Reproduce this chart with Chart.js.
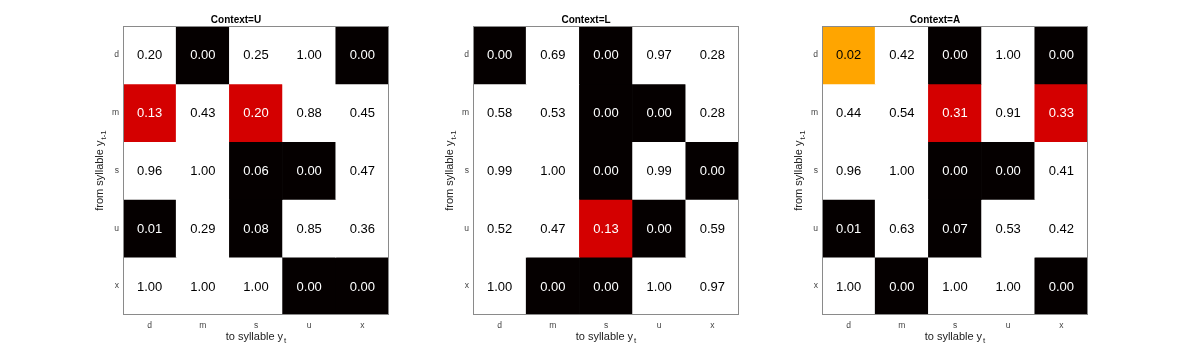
<!DOCTYPE html>
<html>
<head>
<meta charset="utf-8">
<script src="https://cdn.jsdelivr.net/npm/chart.js@4.4.1/dist/chart.umd.min.js"></script>
<style>
    body { margin: 0; background: #fff; width: 1177px; height: 354px; overflow: hidden; position: relative; }
    .panel { position: absolute; top: 0; width: 316px; height: 354px; }
</style>
</head>
<body>
<div class="panel" style="left:83px"><canvas id="chart-u" width="316" height="354"></canvas></div>
<div class="panel" style="left:433px"><canvas id="chart-l" width="316" height="354"></canvas></div>
<div class="panel" style="left:782px"><canvas id="chart-a" width="316" height="354"></canvas></div>
<script>
// Syllables (rows = from y_{t-1}, columns = to y_t)
const fromLabels = ['d', 'm', 's', 'u', 'x'];
const toLabels = ['d', 'm', 's', 'u', 'x'];

// Context=U
const valuesU = [
    [0.20, 0.00, 0.25, 1.00, 0.00],
    [0.13, 0.43, 0.20, 0.88, 0.45],
    [0.96, 1.00, 0.06, 0.00, 0.47],
    [0.01, 0.29, 0.08, 0.85, 0.36],
    [1.00, 1.00, 1.00, 0.00, 0.00]
];
const shadesU = ['WKWWK', 'RWRWW', 'WWKKW', 'KWKWW', 'WWWKK'];

// Context=L
const valuesL = [
    [0.00, 0.69, 0.00, 0.97, 0.28],
    [0.58, 0.53, 0.00, 0.00, 0.28],
    [0.99, 1.00, 0.00, 0.99, 0.00],
    [0.52, 0.47, 0.13, 0.00, 0.59],
    [1.00, 0.00, 0.00, 1.00, 0.97]
];
const shadesL = ['KWKWW', 'WWKKW', 'WWKWK', 'WWRKW', 'WKKWW'];

// Context=A
const valuesA = [
    [0.02, 0.42, 0.00, 1.00, 0.00],
    [0.44, 0.54, 0.31, 0.91, 0.33],
    [0.96, 1.00, 0.00, 0.00, 0.41],
    [0.01, 0.63, 0.07, 0.53, 0.42],
    [1.00, 0.00, 1.00, 1.00, 0.00]
];
const shadesA = ['OWKWK', 'WWRWR', 'WWKKW', 'KWKWW', 'WKWWK'];

const fillColors = { K: '#050000', R: '#d40000', O: '#ffa500', W: '#ffffff' };
const textColors = { K: '#ffffff', R: '#ffffff', O: '#000000', W: '#000000' };
const FONT = '"Liberation Sans", Arial, Helvetica, sans-serif';

function drawSubLabel(ctx, main, sub, x, y) {
    ctx.font = '11px ' + FONT;
    const w1 = ctx.measureText(main).width;
    ctx.font = '8px ' + FONT;
    const w2 = ctx.measureText(sub).width;
    const start = x - (w1 + w2 + 1) / 2;
    ctx.textAlign = 'left';
    ctx.textBaseline = 'middle';
    ctx.font = '11px ' + FONT;
    ctx.fillText(main, start, y);
    ctx.font = '8px ' + FONT;
    ctx.fillText(sub, start + w1 + 1, y + 4);
}

// cell numbers, frame and axis titles
const cellText = {
    id: 'cellText',
    afterDatasetsDraw(chart) {
        const ctx = chart.ctx;
        const area = chart.chartArea;
        ctx.save();
        ctx.font = '13px ' + FONT;
        ctx.textAlign = 'center';
        ctx.textBaseline = 'middle';
        chart.data.datasets.forEach((ds, i) => {
            chart.getDatasetMeta(i).data.forEach((bar, j) => {
                ctx.fillStyle = textColors[ds.shades[j]];
                ctx.fillText(ds.values[j].toFixed(2), bar.x, (bar.y + bar.base) / 2 + 1);
            });
        });

        ctx.strokeStyle = '#8a8a8a';
        ctx.lineWidth = 1;
        ctx.strokeRect(area.left + 0.5, area.top + 0.5, area.width - 1, area.height - 1);

        ctx.fillStyle = '#222';
        drawSubLabel(ctx, 'to syllable y', 't', (area.left + area.right) / 2, 337);
        ctx.translate(area.left - 23, (area.top + area.bottom) / 2);
        ctx.rotate(-Math.PI / 2);
        drawSubLabel(ctx, 'from syllable y', 't-1', 0, 0);
        ctx.restore();
    }
};

function makeChart(id, title, values, shades) {
    const datasets = values.map((row, i) => ({
        label: fromLabels[i],
        data: row.map(() => [i - 0.5, i + 0.5]),
        values: row,
        shades: shades[i],
        backgroundColor: shades[i].split('').map(s => fillColors[s]),
        borderWidth: 0,
        barPercentage: 1,
        categoryPercentage: 1,
        grouped: false
    }));

    return new Chart(document.getElementById(id), {
        type: 'bar',
        data: { labels: toLabels, datasets: datasets },
        options: {
            responsive: false,
            animation: false,
            layout: { padding: { left: 0, right: 10, top: 0, bottom: 0 } },
            plugins: {
                legend: { display: false },
                tooltip: { enabled: false },
                title: {
                    display: true,
                    text: title,
                    color: '#000',
                    font: { family: FONT, size: 10, weight: 'bold', lineHeight: 1 },
                    padding: { top: 15, bottom: 1 }
                }
            },
            scales: {
                x: {
                    type: 'category',
                    grid: { display: false, drawTicks: false },
                    border: { display: false },
                    ticks: { color: '#444', font: { family: FONT, size: 8.5 }, padding: 6 },
                    afterFit: s => { s.height = 39; }
                },
                y: {
                    type: 'linear',
                    min: -0.5,
                    max: 4.5,
                    reverse: true,
                    grid: { display: false, drawTicks: false },
                    border: { display: false },
                    afterBuildTicks: s => { s.ticks = fromLabels.map((_, i) => ({ value: i })); },
                    ticks: {
                        color: '#444',
                        font: { family: FONT, size: 8.5 },
                        padding: 4,
                        callback: v => fromLabels[v]
                    },
                    afterFit: s => { s.width = 40; }
                }
            }
        },
        plugins: [cellText]
    });
}

makeChart('chart-u', 'Context=U', valuesU, shadesU);
makeChart('chart-l', 'Context=L', valuesL, shadesL);
makeChart('chart-a', 'Context=A', valuesA, shadesA);
</script>
</body>
</html>
